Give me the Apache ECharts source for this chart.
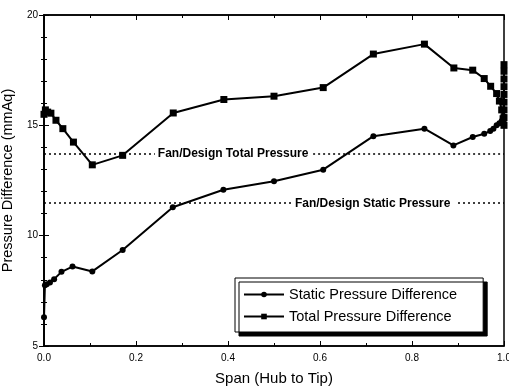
<!DOCTYPE html>
<html>
<head>
<meta charset="utf-8">
<script src="https://cdn.jsdelivr.net/npm/echarts@6/dist/echarts.min.js"></script>
<style>html,body{margin:0;padding:0;background:#fff}#c{width:509px;height:386px}</style>
</head>
<body>
<div id="c"></div>
<script>
const staticSpan = [0.0, 0.002, 0.006, 0.013, 0.022, 0.038, 0.062, 0.105, 0.171, 0.28, 0.39, 0.5, 0.607, 0.716, 0.827, 0.89, 0.932, 0.957, 0.97, 0.977, 0.984, 0.99, 0.995, 0.998, 1.0];
const staticPressure = [6.3, 7.75, 7.8, 7.88, 8.03, 8.36, 8.6, 8.38, 9.35, 11.29, 12.08, 12.47, 12.99, 14.51, 14.85, 14.09, 14.47, 14.62, 14.74, 14.85, 15.0, 15.1, 15.2, 15.3, 15.4];
const totalSpan = [0.0, 0.003, 0.008, 0.015, 0.026, 0.041, 0.064, 0.105, 0.171, 0.281, 0.391, 0.5, 0.607, 0.716, 0.827, 0.891, 0.932, 0.957, 0.971, 0.984, 0.99, 0.995, 0.998, 1.0, 1.0, 1.0, 1.0, 1.0, 1.0, 1.0, 1.0, 1.0];
const totalPressure = [15.5, 15.7, 15.6, 15.55, 15.23, 14.85, 14.24, 13.21, 13.64, 15.56, 16.17, 16.32, 16.71, 18.23, 18.68, 17.6, 17.5, 17.12, 16.77, 16.44, 16.1, 15.7, 15.3, 15.0, 15.35, 15.7, 16.05, 16.4, 16.75, 17.1, 17.45, 17.75];
const designTotal = 13.73;
const designStatic = 11.47;
const xTicks = ['0.0', '0.2', '0.4', '0.6', '0.8', '1.0'];
const yTicks = ['5', '10', '15', '20'];

const font = 'Liberation Sans, Arial, sans-serif';
const chart = echarts.init(document.getElementById('c'));

function pairs(xs, ys) { return xs.map((x, i) => [x, ys[i]]); }

const dotted = { color: '#000', width: 1.6, type: [2, 3] };
function designLine(val, name, gapStart, gapEnd) {
  return [
    [{ coord: [0, val], label: { show: true, position: 'end', formatter: name, distance: 3 } }, { coord: [gapStart, val] }],
    [{ coord: [gapEnd, val], label: { show: false } }, { coord: [1, val] }]
  ];
}

chart.setOption({
  animation: false,
  backgroundColor: '#fff',
  grid: { left: 44, right: 5, top: 15, bottom: 40, outerBoundsMode: 'none', containLabel: false,
    show: true, borderColor: '#000', borderWidth: 1.5 },
  xAxis: [{
    type: 'value', min: 0, max: 1, interval: 0.2,
    name: 'Span (Hub to Tip)', nameLocation: 'middle', nameGap: 25,
    nameTextStyle: { fontFamily: font, fontSize: 15, color: '#000' },
    axisLine: { lineStyle: { color: '#000', width: 1.5 } },
    axisTick: { inside: true, length: 5, lineStyle: { color: '#000' } },
    minorTick: { show: true, splitNumber: 2, length: 3, lineStyle: { color: '#000' } },
    splitLine: { show: false },
    axisLabel: { fontFamily: font, fontSize: 10, color: '#000', margin: 7,
      formatter: (v) => xTicks[Math.round(v / 0.2)] }
  }, {
    type: 'value', min: 0, max: 1, interval: 0.2, position: 'top',
    axisLine: { lineStyle: { color: '#000', width: 1.5 } },
    axisTick: { inside: true, length: 5, lineStyle: { color: '#000' } },
    minorTick: { show: true, splitNumber: 2, length: 3, lineStyle: { color: '#000' } },
    splitLine: { show: false }, axisLabel: { show: false }
  }],
  yAxis: [{
    type: 'value', min: 5, max: 20, interval: 5,
    name: 'Pressure Difference (mmAq)', nameLocation: 'middle', nameGap: 22,
    nameTextStyle: { fontFamily: font, fontSize: 14.5, color: '#000' },
    axisLine: { lineStyle: { color: '#000', width: 1.5 } },
    axisTick: { inside: true, length: 5, lineStyle: { color: '#000' } },
    minorTick: { show: true, splitNumber: 5, length: 3, lineStyle: { color: '#000' } },
    splitLine: { show: false },
    axisLabel: { fontFamily: font, fontSize: 10, color: '#000', margin: 6,
      formatter: (v) => yTicks[Math.round((v - 5) / 5)] }
  }, {
    type: 'value', min: 5, max: 20, interval: 5, position: 'right',
    axisLine: { lineStyle: { color: '#000', width: 1.5 } },
    axisTick: { inside: true, length: 5, lineStyle: { color: '#000' } },
    minorTick: { show: true, splitNumber: 5, length: 3, lineStyle: { color: '#000' } },
    splitLine: { show: false }, axisLabel: { show: false }
  }],
  legend: {
    left: 235, top: 278, orient: 'vertical',
    padding: [9, 26, 8, 8], itemGap: 7, itemWidth: 40, itemHeight: 7,
    backgroundColor: '#fff', borderColor: '#000', borderWidth: 1,
    shadowColor: '#000', shadowBlur: 0, shadowOffsetX: 4, shadowOffsetY: 4,
    textStyle: { fontFamily: font, fontSize: 14.5, lineHeight: 12, color: '#000' },
    data: ['Static Pressure Difference', 'Total Pressure Difference']
  },
  series: [{
    name: 'Static Pressure Difference', type: 'line',
    data: pairs(staticSpan, staticPressure),
    symbol: 'circle', symbolSize: 6,
    itemStyle: { color: '#000' }, lineStyle: { color: '#000', width: 2 },
    markLine: {
      silent: true, symbol: 'none', lineStyle: dotted,
      label: { fontFamily: font, fontSize: 12, fontWeight: 'bold', color: '#000' },
      data: designLine(designStatic, 'Fan/Design Static Pressure', 0.539, 0.9)
    }
  }, {
    name: 'Total Pressure Difference', type: 'line',
    data: pairs(totalSpan, totalPressure),
    symbol: 'rect', symbolSize: 7,
    itemStyle: { color: '#000' }, lineStyle: { color: '#000', width: 2 },
    markLine: {
      silent: true, symbol: 'none', lineStyle: dotted,
      label: { fontFamily: font, fontSize: 12, fontWeight: 'bold', color: '#000' },
      data: designLine(designTotal, 'Fan/Design Total Pressure', 0.241, 0.585)
    }
  }]
});
</script>
</body>
</html>
